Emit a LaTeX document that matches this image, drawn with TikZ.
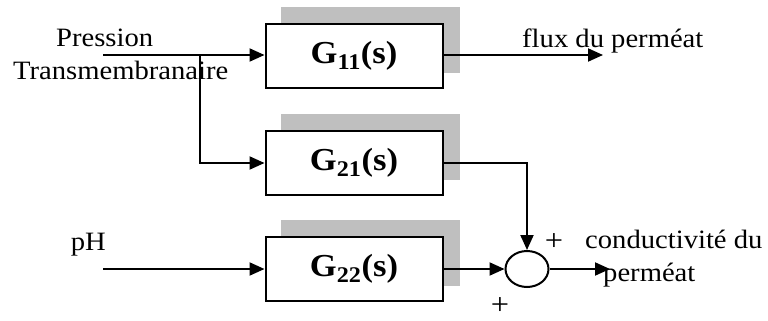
\documentclass[tikz,border=0pt]{standalone}
\usepackage{fontspec}
\setmainfont{Liberation Serif}[FakeStretch=1.08]
\usetikzlibrary{arrows.meta,shapes.geometric,backgrounds}
\begin{document}
\begin{tikzpicture}[x=1pt,y=-1pt,
  wire/.style={line width=2pt},
  sig/.style={wire,-{Triangle[length=15pt,width=13pt]}},
  block/.style={draw,line width=2pt,fill=white,minimum width=177pt,
    minimum height=64pt,inner sep=0pt,
    font=\fontsize{32}{38}\selectfont\bfseries},
  shade/.style={fill=black!25},
  sumpt/.style={ellipse,draw,line width=2pt,fill=white,
    minimum width=43pt,minimum height=36pt,inner sep=0pt},
  lbl/.style={inner sep=0pt,font=\fontsize{26.5}{32}\selectfont},
  sgn/.style={inner sep=0pt,font=\fontsize{30}{36}\selectfont}]
\useasboundingbox (0,0) rectangle (768,321);

% transfer blocks
\node[block] (b1) at (354,56)  {G\textsubscript{11}(s)};
\node[block] (b2) at (354,163) {G\textsubscript{21}(s)};
\node[block] (b3) at (354,269) {G\textsubscript{22}(s)};

% offset grey shadows behind the blocks
\begin{scope}[on background layer]
  \foreach \b in {b1,b2,b3}
    \fill[shade] ([shift={(16,-16)}]\b.south west) rectangle ([shift={(16,-16)}]\b.north east);
\end{scope}

% summing junction
\node[sumpt] (sum) at (527,269) {};

% free ends of the signals
\coordinate (pin)  at (103,55);
\coordinate (br)   at (200,55);
\coordinate (phin) at (103,269);
\coordinate (flux) at (603,55);
\coordinate (cond) at (610,269);

% signal lines
\draw[sig] (pin) -- (b1.west |- pin);
\draw[sig] (br) |- (b2.west);
\draw[sig] (b1.east |- pin) -- (flux);
\draw[sig] (b2.east) -| (sum.north);
\draw[sig] (phin) -- (b3.west);
\draw[sig] (b3.east) -- (sum.west);
\draw[sig] (sum.east) -- (cond);

% labels
\node[lbl,anchor=base west] (tp)  at (56,47)  {Pression};
\node[lbl,anchor=base west] (tt)  at (13,79)  {Transmembranaire};
\node[lbl,anchor=base west] (tf)  at (522,48) {flux du perméat};
\node[lbl,anchor=base east] (tph) at (106,250) {pH};
\node[lbl,anchor=base west] (tc1) at (585,248) {conductivité du};
\node[lbl,anchor=base west] (tc2) at (603,281) {perméat};
\node[sgn] (p1) at (554,242) {+};
\node[sgn] (p2) at (500,306) {+};
\end{tikzpicture}
\end{document}
